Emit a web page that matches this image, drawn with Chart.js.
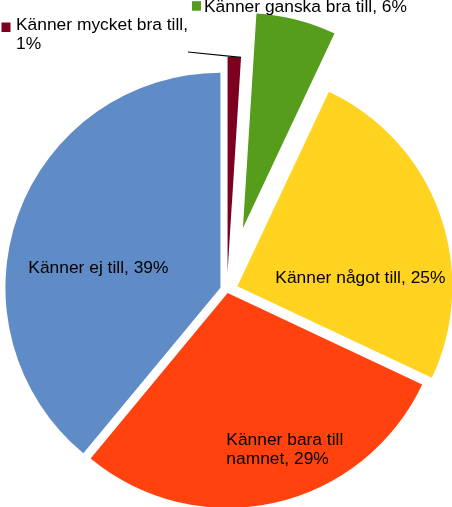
<!DOCTYPE html>
<html>
<head>
<meta charset="utf-8">
<script src="https://cdn.jsdelivr.net/npm/chart.js@4.4.1/dist/chart.umd.min.js"></script>
<style>
  html, body { margin: 0; padding: 0; background: #fff; }
  #wrap { width: 452px; height: 507px; position: relative; }
</style>
</head>
<body>
<div id="wrap"><canvas id="pie"></canvas></div>
<script>
const categories = ['Känner mycket bra till', 'Känner ganska bra till', 'Känner något till', 'Känner bara till namnet', 'Känner ej till'];
const shares = [1, 6, 25, 29, 39];
const sliceColors = ['#7e0021', '#579d1c', '#ffd320', '#ff420e', '#5f8bc6'];
const explode = [18, 64, 11, 3, 7]; // px each slice is pulled out

const pieRadius = 215;
const font = '17.4px "Liberation Sans", Arial, sans-serif';
const lineHeight = 18.5;

// where each label sits, relative to the pie centre (left edge, first baseline)
const labelLayout = [
    {dx: -211, dy: -260, wrap: 182, key: [-14.5, -7.5], leader: [-39, -238]},
    {dx: -23, dy: -278.3, wrap: 300, key: [-12, -10.5]},
    {dx: 48.3, dy: -7.3, wrap: 300},
    {dx: -0.7, dy: 155.3, wrap: 128},
    {dx: -198.7, dy: -17.3, wrap: 300}
];

const wrapText = (ctx, text, maxWidth) => {
    const words = text.split(' ');
    const lines = [];
    let line = '';
    words.forEach(w => {
        const test = line ? line + ' ' + w : w;
        if (line && ctx.measureText(test).width > maxWidth) {
            lines.push(line);
            line = w;
        } else {
            line = test;
        }
    });
    lines.push(line);
    return lines;
};

let centre = {x: 0, y: 0};

const pieLabels = {
    id: 'pieLabels',
    afterDatasetsUpdate(chart) {
        // pull each slice out along its middle angle (the built-in offset also shrinks/grows the arc)
        const arcs = chart.getDatasetMeta(0).data;
        centre = {x: arcs[0].x, y: arcs[0].y};
        arcs.forEach((arc, i) => {
            const mid = (arc.startAngle + arc.endAngle) / 2;
            arc.x = centre.x + Math.cos(mid) * explode[i];
            arc.y = centre.y + Math.sin(mid) * explode[i];
        });
    },
    afterDraw(chart) {
        const ctx = chart.ctx;
        const arcs = chart.getDatasetMeta(0).data;
        ctx.save();
        ctx.font = font;
        ctx.textAlign = 'left';
        ctx.textBaseline = 'alphabetic';
        arcs.forEach((arc, i) => {
            const lay = labelLayout[i];
            const x = centre.x + lay.dx, y = centre.y + lay.dy;
            const text = `${categories[i]}, ${shares[i]}%`;
            const lines = wrapText(ctx, text, lay.wrap);

            if (lay.key) {
                ctx.fillStyle = sliceColors[i];
                ctx.fillRect(x + lay.key[0], y + lay.key[1], 9, 9.5);
            }
            ctx.fillStyle = '#000';
            lines.forEach((l, k) => ctx.fillText(l, x, y + k * lineHeight));

            if (lay.leader) {
                const ex = arc.x + Math.cos(arc.endAngle) * arc.outerRadius;
                const ey = arc.y + Math.sin(arc.endAngle) * arc.outerRadius;
                ctx.strokeStyle = '#000';
                ctx.lineWidth = 1.2;
                ctx.beginPath();
                ctx.moveTo(centre.x + lay.leader[0], centre.y + lay.leader[1]);
                ctx.lineTo(ex, ey);
                ctx.stroke();
            }
        });
        ctx.restore();
    }
};

new Chart(document.getElementById('pie'), {
    type: 'pie',
    data: {
        labels: categories,
        datasets: [{
            data: shares,
            backgroundColor: sliceColors,
            borderWidth: 0,
            clip: false
        }]
    },
    options: {
        responsive: true,
        maintainAspectRatio: false,
        animation: false,
        radius: pieRadius,
        layout: {padding: {top: 73, bottom: 0, left: 2, right: 0}},
        plugins: {
            legend: {display: false},
            tooltip: {enabled: false}
        }
    },
    plugins: [pieLabels]
});
</script>
</body>
</html>
